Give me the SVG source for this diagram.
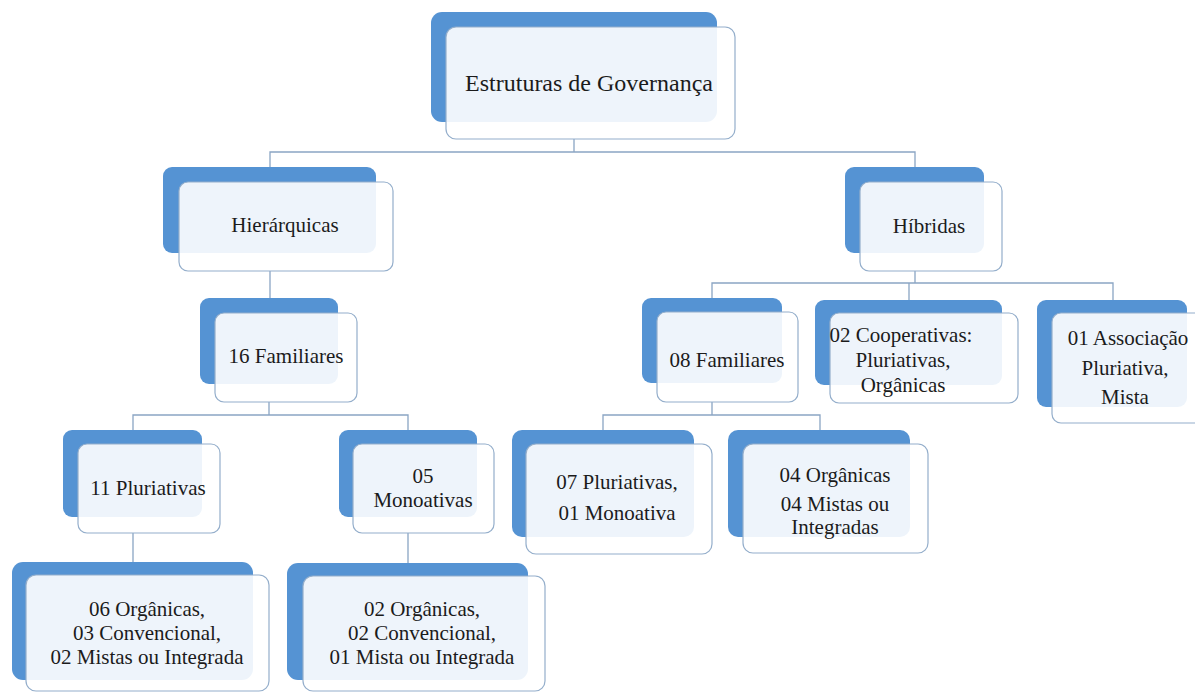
<svg xmlns="http://www.w3.org/2000/svg" width="1195" height="693" viewBox="0 0 1195 693">
  <style>
    .back { fill: #5593D3; }
    .front { fill: #ffffff; fill-opacity: 0.9; stroke: #94AECB; stroke-width: 1.2; }
    text { font-family: Liberation Serif, Tinos, Times New Roman, Times, DejaVu Serif, serif; font-size: 21px; fill: #1b1b1b; text-anchor: middle; }
    text.big { font-size: 24px; }
    .wire { fill: none; stroke: #8AA5C4; stroke-width: 1.3; }
  </style>
  <rect width="1195" height="693" fill="#ffffff"/>

  <!-- connectors -->
  <g id="connectors" class="wire">
    <path d="M574 139 V152 M270 167 V152 H915 V167"/>
    <path d="M270 271 V298"/>
    <path d="M269 402 V415 M133 430 V415 H408 V430"/>
    <path d="M133 533 V562 M408 533 V563"/>
    <path d="M915 271 V283 M712 298 V283 H1113 V300 M909 283 V300"/>
    <path d="M712 402 V415 M603 430 V415 H820 V430"/>
  </g>

  <g id="n-governanca">
    <rect class="back" x="431" y="12" width="286" height="110" rx="11"/>
    <rect class="front" x="446" y="27" width="289" height="112" rx="10"/>
    <text class="big" x="589" y="91">Estruturas de Governança</text>
  </g>

  <g id="n-hierarquicas">
    <rect class="back" x="163" y="167" width="213" height="86" rx="9"/>
    <rect class="front" x="179" y="182" width="214" height="89" rx="9"/>
    <text x="285" y="232">Hierárquicas</text>
  </g>

  <g id="n-hibridas">
    <rect class="back" x="845" y="167" width="139" height="86" rx="9"/>
    <rect class="front" x="860" y="182" width="142" height="89" rx="9"/>
    <text x="929" y="233">Híbridas</text>
  </g>

  <g id="n-16-familiares">
    <rect class="back" x="200" y="298" width="138" height="86" rx="9"/>
    <rect class="front" x="215" y="313" width="142" height="89" rx="9"/>
    <text x="286" y="363">16 Familiares</text>
  </g>

  <g id="n-08-familiares">
    <rect class="back" x="642" y="298" width="140" height="85" rx="9"/>
    <rect class="front" x="657" y="312" width="141" height="90" rx="9"/>
    <text x="727" y="367">08 Familiares</text>
  </g>

  <g id="n-cooperativas">
    <rect class="back" x="815" y="300" width="187" height="85" rx="9"/>
    <rect class="front" x="830" y="313" width="188" height="90" rx="9"/>
    <text x="901" y="342">02 Cooperativas:</text>
    <text x="903" y="367">Pluriativas,</text>
    <text x="903" y="392">Orgânicas</text>
  </g>

  <g id="n-associacao">
    <rect class="back" x="1037" y="300" width="150" height="107" rx="9"/>
    <rect class="front" x="1052" y="313" width="152" height="110" rx="9"/>
    <text x="1128" y="345">01 Associação</text>
    <text x="1125" y="375">Pluriativa,</text>
    <text x="1125" y="404">Mista</text>
  </g>

  <g id="n-11-pluriativas">
    <rect class="back" x="63" y="430" width="139" height="87" rx="9"/>
    <rect class="front" x="78" y="444" width="142" height="89" rx="9"/>
    <text x="148" y="495">11 Pluriativas</text>
  </g>

  <g id="n-05-monoativas">
    <rect class="back" x="339" y="430" width="138" height="87" rx="9"/>
    <rect class="front" x="353" y="444" width="141" height="89" rx="9"/>
    <text x="423" y="483">05</text>
    <text x="423" y="507">Monoativas</text>
  </g>

  <g id="n-07-pluriativas">
    <rect class="back" x="512" y="430" width="182" height="107" rx="10"/>
    <rect class="front" x="526" y="444" width="186" height="110" rx="10"/>
    <text x="617" y="489">07 Pluriativas,</text>
    <text x="617" y="520">01 Monoativa</text>
  </g>

  <g id="n-04-organicas">
    <rect class="back" x="728" y="430" width="182" height="107" rx="10"/>
    <rect class="front" x="743" y="444" width="185" height="109" rx="10"/>
    <text x="835" y="482">04 Orgânicas</text>
    <text x="835" y="511">04 Mistas ou</text>
    <text x="835" y="534">Integradas</text>
  </g>

  <g id="n-pluriativas-detalhe">
    <rect class="back" x="12" y="562" width="241" height="118" rx="11"/>
    <rect class="front" x="26" y="575" width="243" height="116" rx="10"/>
    <text x="147" y="616">06 Orgânicas,</text>
    <text x="147" y="640">03 Convencional,</text>
    <text x="147" y="664">02 Mistas ou Integrada</text>
  </g>

  <g id="n-monoativas-detalhe">
    <rect class="back" x="287" y="563" width="241" height="117" rx="11"/>
    <rect class="front" x="303" y="576" width="242" height="115" rx="10"/>
    <text x="422" y="616">02 Orgânicas,</text>
    <text x="422" y="640">02 Convencional,</text>
    <text x="422" y="664">01 Mista ou Integrada</text>
  </g>
</svg>
